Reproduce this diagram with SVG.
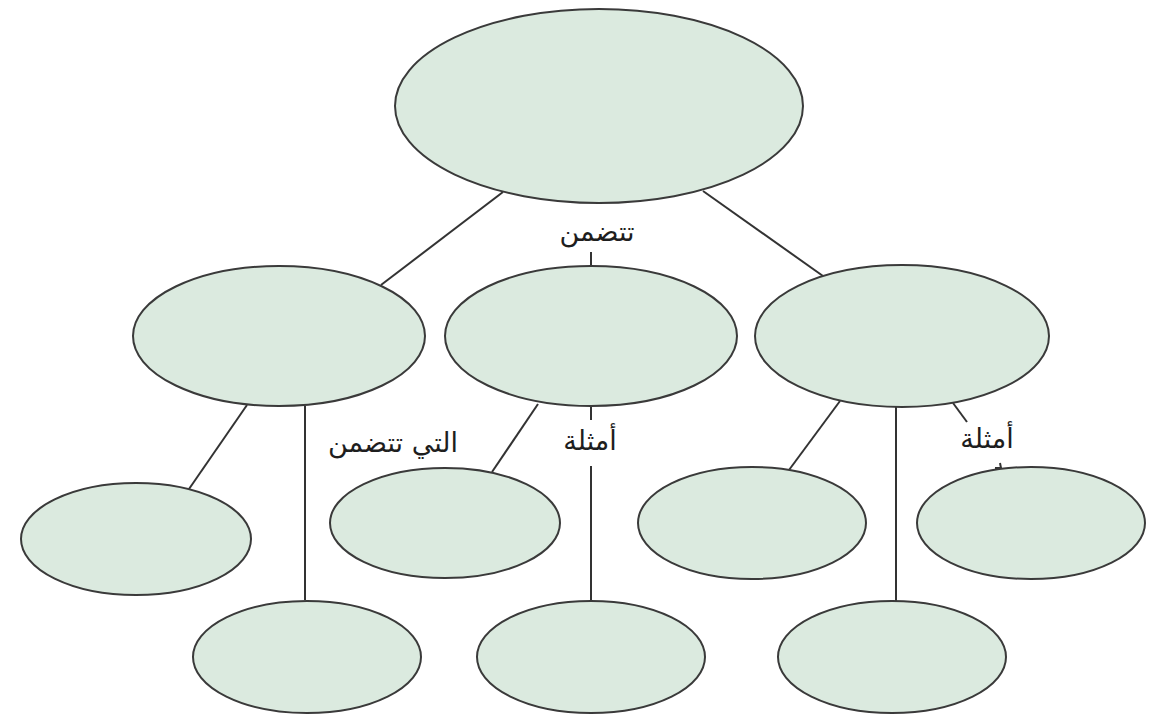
<svg xmlns="http://www.w3.org/2000/svg" width="1158" height="721" viewBox="0 0 1158 721">
<style>
.n{fill:#dbeadf;stroke:#3a3a3a;stroke-width:2}
.c{stroke:#333;stroke-width:2;fill:none}
.t{font-family:"DejaVu Sans",sans-serif;font-size:27px;fill:#1e1e1e;text-anchor:middle}
</style>
<rect width="1158" height="721" fill="#fff"/>
<g id="connectors">
<line class="c" x1="503" y1="192" x2="381" y2="285"/>
<line class="c" x1="703" y1="191" x2="823" y2="276"/>
<line class="c" x1="591" y1="252" x2="591" y2="266"/>
<line class="c" x1="247" y1="405" x2="189" y2="489"/>
<line class="c" x1="305" y1="406" x2="305" y2="600"/>
<line class="c" x1="538" y1="404" x2="492" y2="472"/>
<line class="c" x1="591" y1="406" x2="591" y2="420"/>
<line class="c" x1="591" y1="466" x2="591" y2="601"/>
<line class="c" x1="840" y1="401" x2="789" y2="470"/>
<line class="c" x1="896" y1="406" x2="896" y2="601"/>
<line class="c" x1="953" y1="403" x2="967" y2="422"/>
<path class="c" d="M995 468 L1001 468 L1000 463" stroke-width="1.5"/>
</g>
<g id="labels">
<text class="t" x="597" y="241">تتضمن</text>
<text class="t" x="393" y="452">التي تتضمن</text>
<text class="t" x="590" y="450">أمثلة</text>
<text class="t" x="987" y="448">أمثلة</text>
</g>
<g id="top"><ellipse class="n" cx="599" cy="106" rx="204" ry="97"/></g>
<g id="midL"><ellipse class="n" cx="279" cy="336" rx="146" ry="70"/></g>
<g id="midC"><ellipse class="n" cx="591" cy="336" rx="146" ry="70"/></g>
<g id="midR"><ellipse class="n" cx="902" cy="336" rx="147" ry="71"/></g>
<g id="row1a"><ellipse class="n" cx="136" cy="539" rx="115" ry="56"/></g>
<g id="row1b"><ellipse class="n" cx="445" cy="523" rx="115" ry="55"/></g>
<g id="row1c"><ellipse class="n" cx="752" cy="523" rx="114" ry="56"/></g>
<g id="row1d"><ellipse class="n" cx="1031" cy="523" rx="114" ry="56"/></g>
<g id="row2a"><ellipse class="n" cx="307" cy="657" rx="114" ry="56"/></g>
<g id="row2b"><ellipse class="n" cx="591" cy="657" rx="114" ry="56"/></g>
<g id="row2c"><ellipse class="n" cx="892" cy="657" rx="114" ry="56"/></g>
</svg>
